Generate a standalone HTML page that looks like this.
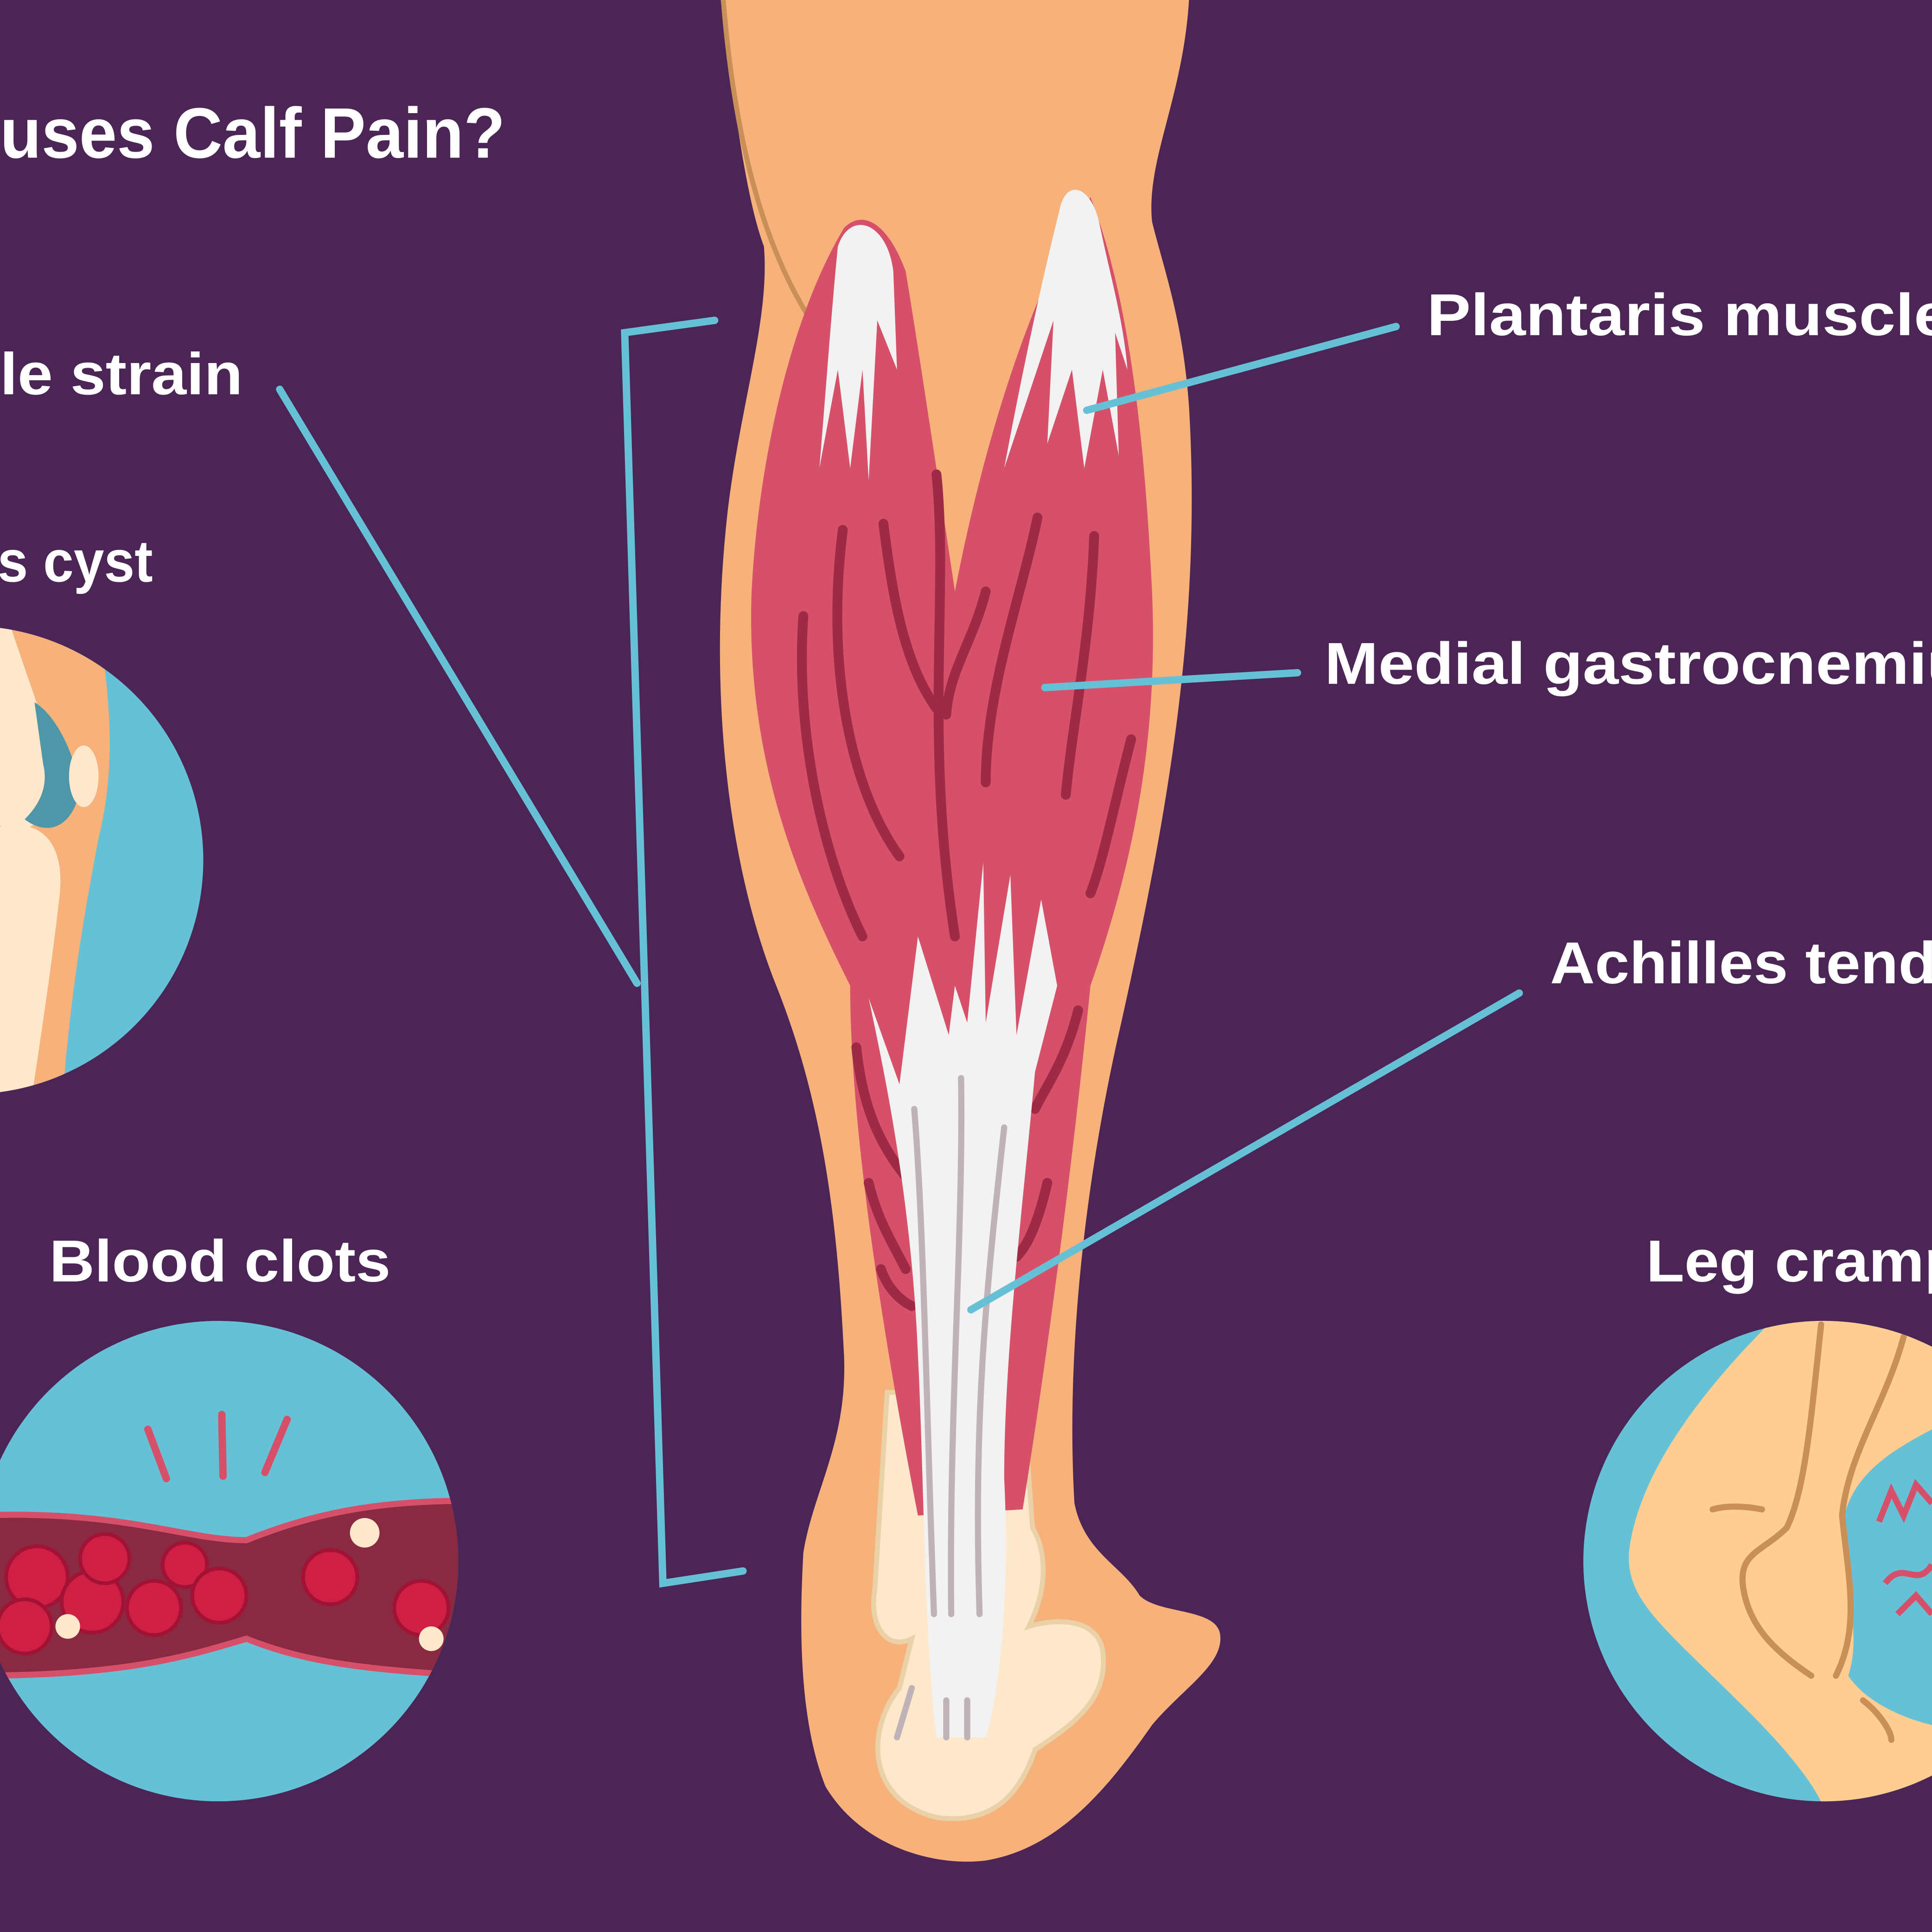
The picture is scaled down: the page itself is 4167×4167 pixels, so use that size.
<!DOCTYPE html>
<html><head><meta charset="utf-8"><style>
html,body{margin:0;padding:0;background:#4B2555;}
svg{display:block;}
text{font-family:"Liberation Sans",sans-serif;font-weight:bold;fill:#fff;}
</style></head><body>
<svg width="4167" height="4167" viewBox="0 0 1568 1568" xmlns="http://www.w3.org/2000/svg">
<rect width="1568" height="1568" fill="#4B2555"/>
<defs>
<clipPath id="c1"><circle cx="-25" cy="698" r="190"/></clipPath>
<clipPath id="c2"><circle cx="177" cy="1267" r="195"/></clipPath>
<clipPath id="c3"><circle cx="1480" cy="1267" r="195"/></clipPath>
</defs>
<path d="M585,0 C595,80 605,160 620,200 C625,260 600,330 590,420 C575,560 590,700 630,800 C670,900 680,1000 685,1100 C688,1170 660,1210 652,1260 C648,1330 650,1400 670,1450 C700,1500 760,1515 800,1510 C860,1500 900,1450 935,1400 C960,1370 995,1350 990,1325 C985,1305 940,1310 925,1295 C910,1270 880,1260 872,1220 C865,1100 880,960 910,830 C950,650 975,500 965,330 C960,260 945,220 935,180 C930,130 960,80 965,0 Z" fill="#F6B27A"/>
<path d="M587,0 C595,100 615,190 655,255" stroke="#C98F58" stroke-width="4" fill="none"/>
<path d="M720,1130 L710,1290 C705,1320 720,1340 740,1330 L730,1370 C705,1400 700,1460 760,1475 C810,1482 830,1450 840,1420 C870,1400 900,1380 895,1340 C890,1310 850,1315 835,1320 C850,1290 850,1260 838,1240 L830,1130 Z" fill="#FDE8CC" stroke="#EBD1A8" stroke-width="4"/>
<path d="M685,185 C640,260 615,380 610,480 C605,620 650,720 690,800 C690,900 710,1050 745,1230 L830,1225 C850,1100 870,950 885,800 C920,700 940,600 935,480 C930,380 920,250 885,160 C840,230 800,350 775,480 C760,380 745,280 735,220 C720,180 700,170 685,185 Z" fill="#D6506A"/>
<g stroke="#9E2A45" stroke-width="8" fill="none" stroke-linecap="round">
<path d="M684,430 C670,540 690,640 730,695"/>
<path d="M652,500 C645,600 670,700 700,760"/>
<path d="M717,425 C725,490 735,540 760,575"/>
<path d="M760,385 C770,480 750,600 775,760"/>
<path d="M800,480 C790,520 770,545 768,580"/>
<path d="M842,420 C830,480 800,560 800,635"/>
<path d="M888,435 C885,520 870,590 865,645"/>
<path d="M918,600 C905,650 895,700 885,725"/>
<path d="M695,850 C700,900 715,930 735,955"/>
<path d="M705,960 C712,990 725,1010 735,1030"/>
<path d="M715,1030 C720,1045 730,1055 740,1060"/>
<path d="M875,820 C865,860 850,880 840,900"/>
<path d="M850,960 C843,990 835,1010 825,1020"/>
</g>
<path d="M745,760 L770,840 L775,800 L785,830 L798,700 L800,830 L820,710 L825,840 L845,730 L858,800 L840,870 C830,980 815,1100 815,1200 C820,1300 810,1380 800,1410 L760,1410 C750,1330 750,1200 745,1100 C740,980 720,880 705,810 L730,880 Z" fill="#F2F2F2"/>
<g stroke="#C0B3B8" stroke-width="5" fill="none" stroke-linecap="round">
<path d="M742,900 C750,1000 752,1150 758,1310"/>
<path d="M780,875 C782,1000 770,1150 772,1310"/>
<path d="M815,915 C800,1050 790,1150 795,1310"/>
<path d="M740,1370 L728,1410"/><path d="M768,1380 L768,1410"/><path d="M785,1380 L785,1410"/>
</g>
<path d="M680,200 C690,170 720,180 725,220 L728,300 L712,260 L705,390 L700,300 L690,380 L680,300 L665,380 C670,320 675,250 680,200 Z" fill="#F2F2F2"/>
<path d="M860,170 C865,145 885,150 892,180 C900,220 912,260 915,300 L905,270 L908,370 L895,300 L880,380 L870,300 L850,360 L855,260 L815,380 C830,300 845,230 860,170 Z" fill="#F2F2F2"/>
<g stroke="#67C1D6" stroke-width="6" fill="none" stroke-linecap="round">
<polyline points="580,260 507,270 538,1285 603,1275"/>
<line x1="227" y1="316" x2="517" y2="798"/>
<line x1="882" y1="333" x2="1133" y2="265"/>
<line x1="848" y1="558" x2="1053" y2="546"/>
<line x1="788" y1="1063" x2="1233" y2="806"/>
</g>
<g clip-path="url(#c1)">
<rect x="-250" y="480" width="450" height="450" fill="#67C1D6"/>
<path d="M-250,480 L75,480 C90,560 95,620 80,680 C65,760 55,820 48,930 L-250,930 Z" fill="#F6B27A"/>
<path d="M-250,480 L0,480 C20,550 45,600 45,640 C40,670 15,680 0,670 L-250,670 Z" fill="#FDE8CC"/>
<path d="M-250,680 L20,670 C45,675 52,700 48,730 C40,800 30,860 20,930 L-250,930 Z" fill="#FDE8CC"/>
<path d="M28,570 C45,580 60,610 65,640 C60,670 40,680 20,665 C30,655 40,640 35,620 Z" fill="#4F97A8"/>
<ellipse cx="68" cy="630" rx="12" ry="25" fill="#FDE8CC"/>
</g>
<g clip-path="url(#c2)">
<circle cx="177" cy="1267" r="195" fill="#67C1D6"/>
<path d="M-20,1230 C100,1225 150,1250 200,1250 C250,1230 300,1218 380,1218 L380,1360 C300,1355 250,1350 200,1330 C150,1345 100,1360 -20,1360 Z" fill="#8A2A42" stroke="#D6506A" stroke-width="5"/>
<g fill="#D01F45" stroke="#A11235" stroke-width="3">
<circle cx="30" cy="1280" r="25"/><circle cx="75" cy="1300" r="25"/><circle cx="20" cy="1320" r="22"/>
<circle cx="125" cy="1305" r="22"/><circle cx="85" cy="1265" r="20"/><circle cx="150" cy="1270" r="18"/>
<circle cx="178" cy="1295" r="22"/><circle cx="268" cy="1280" r="22"/><circle cx="342" cy="1305" r="22"/>
</g>
<circle cx="296" cy="1244" r="12" fill="#FDE8CC"/><circle cx="55" cy="1320" r="10" fill="#FDE8CC"/><circle cx="350" cy="1330" r="10" fill="#FDE8CC"/>
</g>
<g stroke="#D6506A" stroke-width="6" stroke-linecap="round"><line x1="120" y1="1160" x2="135" y2="1200"/><line x1="180" y1="1148" x2="181" y2="1198"/><line x1="233" y1="1152" x2="215" y2="1195"/></g>
<g clip-path="url(#c3)">
<circle cx="1480" cy="1267" r="195" fill="#67C1D6"/>
<path d="M1440,1070 C1390,1120 1330,1190 1322,1260 C1320,1300 1350,1320 1420,1390 C1460,1430 1480,1460 1480,1470 L1700,1470 L1700,1070 Z" fill="#FDCD92"/>
<path d="M1568,1160 C1530,1180 1500,1200 1495,1240 C1500,1300 1510,1330 1500,1360 C1520,1390 1568,1400 1568,1400 Z" fill="#67C1D6"/>
<g stroke="#C98F58" stroke-width="5" fill="none" stroke-linecap="round">
<path d="M1478,1075 C1470,1150 1465,1210 1450,1240 C1430,1260 1410,1260 1415,1290 C1420,1320 1440,1340 1470,1360"/>
<path d="M1545,1085 C1530,1140 1500,1180 1495,1230 C1500,1280 1510,1320 1490,1360"/>
<path d="M1390,1225 C1400,1222 1415,1222 1430,1225"/><path d="M1512,1380 C1525,1390 1535,1405 1535,1412"/>
</g>
<g stroke="#D6506A" stroke-width="5" fill="none"><path d="M1525,1235 L1535,1210 L1545,1230 L1555,1205 L1568,1220"/><path d="M1530,1285 C1545,1265 1555,1290 1568,1270"/><path d="M1540,1310 L1555,1295 L1568,1310"/></g>
</g>
<text x="0" y="128" font-size="58" textLength="410" lengthAdjust="spacingAndGlyphs">uses Calf Pain?</text>
<text x="0" y="320" font-size="48" textLength="197" lengthAdjust="spacingAndGlyphs">le strain</text>
<text x="-2" y="472" font-size="48" textLength="126" lengthAdjust="spacingAndGlyphs">s cyst</text>
<text x="40" y="1040" font-size="48" textLength="277" lengthAdjust="spacingAndGlyphs">Blood clots</text>
<text x="1158" y="272" font-size="48" textLength="425" lengthAdjust="spacingAndGlyphs">Plantaris muscle</text>
<text x="1075" y="555" font-size="48" textLength="550" lengthAdjust="spacingAndGlyphs">Medial gastrocnemius</text>
<text x="1258" y="798" font-size="48" textLength="375" lengthAdjust="spacingAndGlyphs">Achilles tendon</text>
<text x="1336" y="1040" font-size="48" textLength="285" lengthAdjust="spacingAndGlyphs">Leg cramps</text>
</svg>
</body></html>
